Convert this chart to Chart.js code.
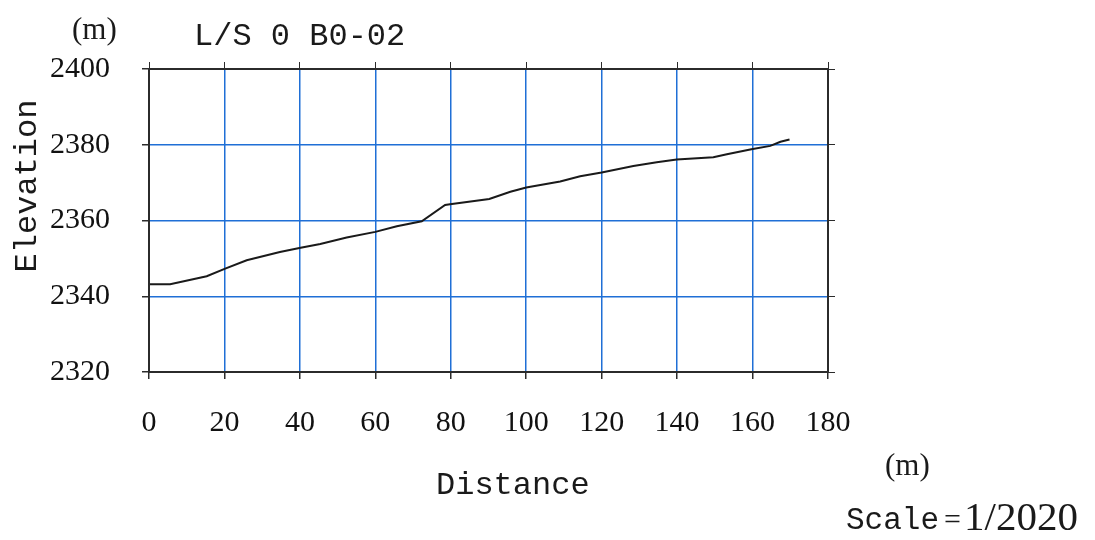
<!DOCTYPE html>
<html>
<head>
<meta charset="utf-8">
<script src="https://cdn.jsdelivr.net/npm/chart.js@4.4.1/dist/chart.umd.min.js"></script>
<style>
  html, body { margin: 0; padding: 0; background: #fff; }
  #wrap { width: 1095px; height: 540px; }
</style>
</head>
<body>
<div id="wrap"><canvas id="profile"></canvas></div>
<script>
// longitudinal section L/S 0 B0-02
var distance = [0, 5.6, 15.3, 20.2, 25.9, 34.7, 40.2, 45.4, 52.4, 60, 65.7, 72.3, 78.5, 79.8, 90.2, 95.8, 100, 109, 114.3, 120, 128.4, 134.6, 139.9, 149.6, 153.2, 159.7, 164.7, 167.4, 169.8];
var elevation = [2343.2, 2343.2, 2345.3, 2347.3, 2349.5, 2351.7, 2352.8, 2353.8, 2355.5, 2357.0, 2358.5, 2359.8, 2364.1, 2364.3, 2365.7, 2367.6, 2368.7, 2370.3, 2371.7, 2372.7, 2374.4, 2375.4, 2376.1, 2376.7, 2377.5, 2378.8, 2379.7, 2380.8, 2381.4];
var xTicks = [0, 20, 40, 60, 80, 100, 120, 140, 160, 180];
var yTicks = [2320, 2340, 2360, 2380, 2400];

var gridBlue = '#1f6fd6';
var frame = '#2b2b2b';
var serif = '"Liberation Serif", "DejaVu Serif", serif';
var mono = '"Liberation Mono", "DejaVu Sans Mono", monospace';

var points = distance.map(function(d, i){ return {x: d, y: elevation[i]}; });

// labels around the frame
var labelsPlugin = {
  id: 'sectionLabels',
  afterDraw: function(chart){
    var c = chart.ctx;
    c.save();
    c.fillStyle = '#1a1a1a';
    c.textBaseline = 'middle';

    c.font = '31px ' + serif;
    c.textAlign = 'left';
    c.fillText('(m)', 72, 31);
    c.fillText('(m)', 885, 467);

    c.font = '32px ' + mono;
    c.fillText('L/S 0 B0-02', 194, 37);
    c.fillText('Distance', 436, 486);

    c.font = '31px ' + mono;
    c.fillText('Scale', 846, 521);
    c.font = '30px ' + serif;
    c.fillText('=', 944, 521);
    c.font = '41px ' + serif;
    c.fillText('1/2020', 964, 519);

    c.translate(28, 186);
    c.rotate(-Math.PI / 2);
    c.textAlign = 'center';
    c.font = '32px ' + mono;
    c.fillText('Elevation', 0, 0);
    c.restore();
  }
};

function fixSize(prop, size){
  return function(scale){ scale[prop] = size; };
}
function plain(v){ return String(v); }

var ctx = document.getElementById('profile');
var chart = new Chart(ctx, {
  type: 'scatter',
  data: {
    datasets: [{
      data: points,
      showLine: true,
      borderColor: '#1a1a1a',
      borderWidth: 2,
      pointRadius: 0,
      tension: 0
    }]
  },
  options: {
    responsive: true,
    maintainAspectRatio: false,
    animation: false,
    layout: { padding: { left: 0, top: 62, right: 260, bottom: 0 } },
    plugins: { legend: { display: false }, tooltip: { enabled: false } },
    scales: {
      x: {
        type: 'linear', position: 'bottom', min: 0, max: 180,
        afterBuildTicks: function(s){ s.ticks = xTicks.map(function(v){ return {value: v}; }); },
        afterFit: fixSize('height', 168),
        grid: { color: gridBlue, lineWidth: 1.5, tickColor: frame, tickLength: 7 },
        border: { color: frame, width: 2, z: 1 },
        ticks: { color: '#111', font: { family: serif, size: 30 }, padding: 26, maxRotation: 0, callback: plain }
      },
      xTop: {
        type: 'linear', position: 'top', min: 0, max: 180,
        afterBuildTicks: function(s){ s.ticks = xTicks.map(function(v){ return {value: v}; }); },
        afterFit: fixSize('height', 7),
        grid: { drawOnChartArea: false, tickColor: frame, tickLength: 7 },
        border: { color: frame, width: 2, z: 1 },
        ticks: { display: false }
      },
      y: {
        type: 'linear', position: 'left', min: 2320, max: 2400,
        afterBuildTicks: function(s){ s.ticks = yTicks.map(function(v){ return {value: v}; }); },
        afterFit: fixSize('width', 149),
        grid: { color: gridBlue, lineWidth: 1.5, tickColor: frame, tickLength: 7 },
        border: { color: frame, width: 2, z: 1 },
        ticks: { color: '#111', font: { family: serif, size: 30 }, padding: 32, callback: plain }
      },
      yRight: {
        type: 'linear', position: 'right', min: 2320, max: 2400,
        afterBuildTicks: function(s){ s.ticks = yTicks.map(function(v){ return {value: v}; }); },
        afterFit: fixSize('width', 7),
        grid: { drawOnChartArea: false, tickColor: frame, tickLength: 7 },
        border: { color: frame, width: 2, z: 1 },
        ticks: { display: false }
      }
    }
  },
  plugins: [labelsPlugin]
});
</script>
</body>
</html>
